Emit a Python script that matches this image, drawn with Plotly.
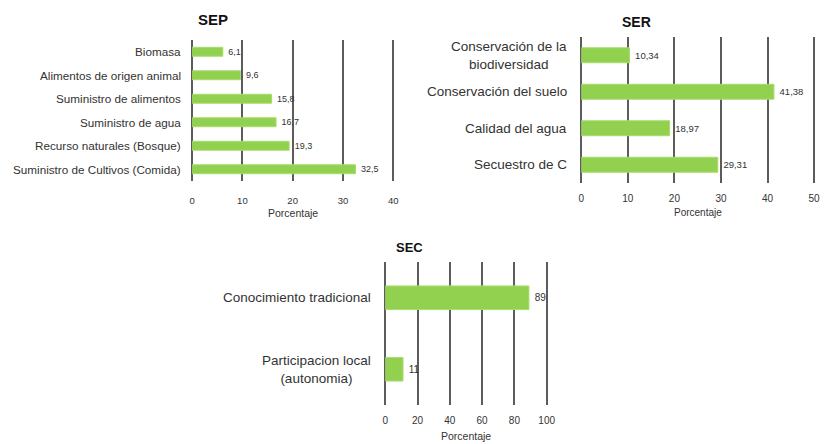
import plotly.graph_objects as go

# ---- data ----
sep_labels = ["Biomasa", "Alimentos de origen animal", "Suministro de alimentos",
              "Suministro de agua", "Recurso naturales (Bosque)",
              "Suministro de Cultivos (Comida)"]
sep_values = [6.1, 9.6, 15.8, 16.7, 19.3, 32.5]

ser_labels = ["Conservación de la<br>biodiversidad", "Conservación del suelo",
              "Calidad del agua", "Secuestro de C"]
ser_values = [10.34, 41.38, 18.97, 29.31]

sec_labels = ["Conocimiento tradicional", "Participacion local<br>(autonomia)"]
sec_values = [89, 11]

sep_ticks = [0, 10, 20, 30, 40]
ser_ticks = [0, 10, 20, 30, 40, 50]
sec_ticks = [0, 20, 40, 60, 80, 100]

FONT = "Liberation Sans, Arial, sans-serif"
BAR = "#92d050"
BAR_EDGE = "#a8dc6c"
GRID = "#5c5c5c"
TXT = "#333333"
W, H = 824, 444
EXTRA = 4  # px of plot area beyond the last tick so its grid line shows


def fmt(v):
    return "\u00a0" + ("%g" % v).replace(".", ",")


def px_x(p):
    return p / W


def px_y(p):
    return 1 - p / H


fig = go.Figure()

panels = [
    dict(name="SEP", labels=sep_labels, values=sep_values, ticks=sep_ticks,
         x=(191, 394), y=(40, 181), width=0.38, tickfont=9.5, labfont=11.7,
         datafont=9, xr=40, ticklen=11, gap=9, title_y=213, title_fs=10.5),
    dict(name="SER", labels=ser_labels, values=ser_values, ticks=ser_ticks,
         x=(584, 819), y=(37, 183), width=0.41, tickfont=10, labfont=13.5,
         datafont=9.5, xr=50, ticklen=6, gap=12, title_y=212, title_fs=10),
    dict(name="SEC", labels=sec_labels, values=sec_values, ticks=sec_ticks,
         x=(386, 549), y=(262, 405), width=0.33, tickfont=10, labfont=13.5,
         datafont=10, xr=100, ticklen=6, gap=12, title_y=436, title_fs=10.5),
]

annotations = []
for i, p in enumerate(panels, start=1):
    xa = "x" if i == 1 else "x%d" % i
    ya = "y" if i == 1 else "y%d" % i
    idx = list(range(len(p["labels"])))
    fig.add_trace(go.Bar(
        x=p["values"], y=idx, orientation="h", xaxis=xa, yaxis=ya,
        width=p["width"],
        marker=dict(color=BAR, line=dict(color=BAR_EDGE, width=1)),
        text=[fmt(v) for v in p["values"]], textposition="outside",
        constraintext="none",
        textfont=dict(size=p["datafont"], color=TXT, family=FONT),
        cliponaxis=False, showlegend=False, hoverinfo="skip",
    ))
    x0, x1 = p["x"]
    span = x1 - x0
    xkey = "xaxis" if i == 1 else "xaxis%d" % i
    ykey = "yaxis" if i == 1 else "yaxis%d" % i
    fig.update_layout(**{
        xkey: dict(domain=[px_x(x0), px_x(x1 + EXTRA)], anchor=ya,
                   range=[0, p["xr"] * (1 + EXTRA / span)], tickvals=p["ticks"],
                   showgrid=True, gridcolor=GRID, gridwidth=1.6,
                   zeroline=True, zerolinecolor=GRID, zerolinewidth=1.6,
                   showline=False, ticks="outside", ticklen=p["ticklen"],
                   tickcolor="rgba(0,0,0,0)",
                   tickfont=dict(size=p["tickfont"], color=TXT, family=FONT),
                   fixedrange=True),
        ykey: dict(domain=[px_y(p["y"][1]), px_y(p["y"][0])], anchor=xa,
                   range=[len(idx) - 0.5, -0.5], showgrid=False,
                   zeroline=False, showticklabels=False, fixedrange=True),
    })
    # category labels
    for j, lab in enumerate(p["labels"]):
        annotations.append(dict(
            x=px_x(x0 - p["gap"]), xref="paper",
            y=j, yref=ya, text=lab, showarrow=False, xanchor="right",
            yanchor="middle", align="center",
            font=dict(size=p["labfont"], color=TXT, family=FONT)))
    # axis title
    annotations.append(dict(
        x=px_x((x0 + x1) / 2), xref="paper",
        y=px_y(p["title_y"]), yref="paper",
        text="Porcentaje", showarrow=False, xanchor="center", yanchor="middle",
        font=dict(size=p["title_fs"], color=TXT, family=FONT)))

# panel titles
for name, cx, cy, fs in [("SEP", 212, 19, 15), ("SER", 640, 22, 14),
                         ("SEC", 410, 248, 13)]:
    annotations.append(dict(
        x=px_x(cx), xref="paper", y=px_y(cy), yref="paper",
        text="<b>%s</b>" % name, showarrow=False, xanchor="center",
        yanchor="middle", font=dict(size=fs, color="#111111", family=FONT)))

fig.update_layout(
    width=W, height=H, margin=dict(l=0, r=0, t=0, b=0),
    paper_bgcolor="white", plot_bgcolor="white",
    annotations=annotations, font=dict(family=FONT, color=TXT),
)

fig.write_html("out.html", config={"displayModeBar": False})
